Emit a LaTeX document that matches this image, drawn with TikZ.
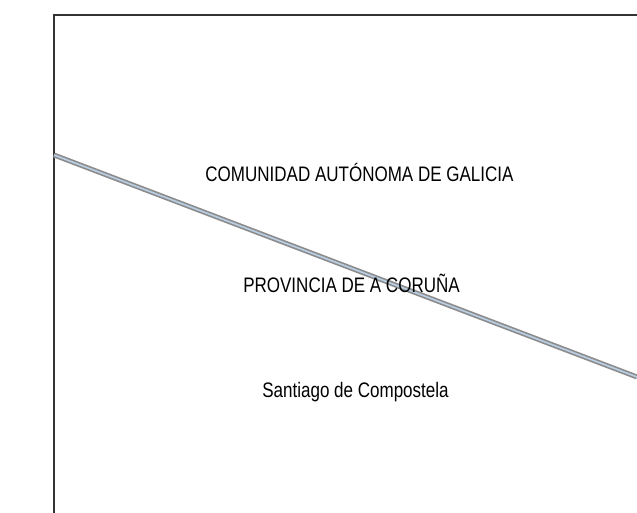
\documentclass[tikz,border=0pt]{standalone}
\usepackage{fontspec}
\usepackage{graphicx}
\setmainfont{Liberation Sans}
\usetikzlibrary{positioning}
\definecolor{roadedge}{HTML}{8C8C8C}
\definecolor{roadfill}{HTML}{B9CFE6}
\tikzstyle{label} = [font=\fontsize{21}{24}\selectfont, inner sep=0pt, anchor=base]
\tikzstyle{road}  = [double=roadfill, double distance=1.6pt, line width=1.7pt, draw=roadedge]
\newcommand{\narrow}[1]{\scalebox{0.81}[1]{#1}}

\begin{document}
\begin{tikzpicture}[x=1pt, y=-1pt]
      \useasboundingbox (0,0) rectangle (637,513);
      % Frame
      \draw[line width=1.4pt, draw=black!80] (54,513) -- (54,15) -- (637,15);
      % Road
      \coordinate (roadW) at (54,155);
      \coordinate (roadE) at (637,377);
      \draw[road] (roadW) -- (roadE);
      % Labels
      \node[label] (comunidad) at (359.5,182) {\narrow{COMUNIDAD AUTÓNOMA DE GALICIA}};
      \node[label] (provincia) at (351.5,292) {\narrow{PROVINCIA DE A CORUÑA}};
      \node[label] (concello)  at (355.5,397) {\narrow{Santiago de Compostela}};
\end{tikzpicture}
\end{document}
